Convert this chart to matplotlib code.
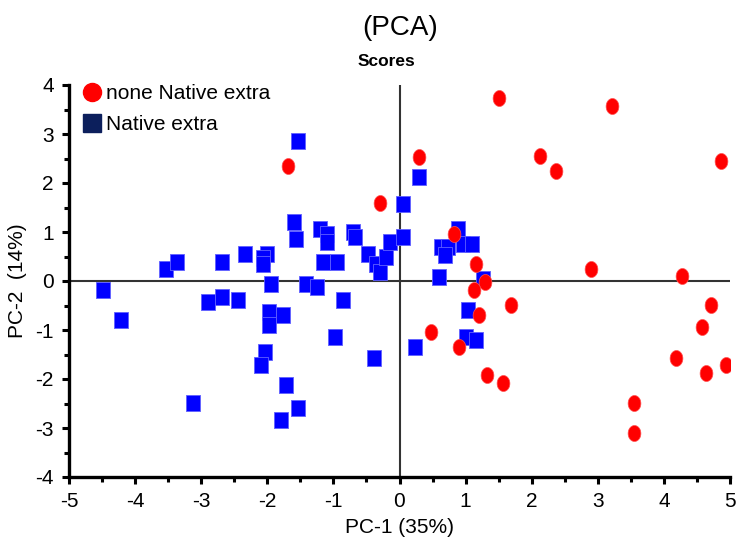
import numpy as np
import matplotlib
matplotlib.use("Agg")
import matplotlib.pyplot as plt
from matplotlib.lines import Line2D
from matplotlib.ticker import MultipleLocator

# PCA scores
other_x = [-1.69, -0.30, 0.30, 1.51, 2.13, 2.37, 3.22, 4.86, 0.82, 1.15, 2.89, 4.27,
           1.29, 1.12, 1.20, 1.69, 0.47, 0.90, 1.33, 1.56, 3.55, 3.55, 4.72, 4.58,
           4.18, 4.64, 4.94]
other_y = [2.35, 1.60, 2.53, 3.73, 2.55, 2.24, 3.57, 2.45, 0.96, 0.35, 0.24, 0.10,
           -0.03, -0.18, -0.69, -0.49, -1.04, -1.35, -1.92, -2.08, -2.49, -3.10, -0.49, -0.94,
           -1.57, -1.88, -1.71]

native_x = [-4.49, -4.22, -3.54, -3.37, -3.13, -2.89, -2.69, -2.68, -2.45, -2.34,
            -2.00, -2.07, -2.07, -1.94, -1.98, -1.97, -1.77, -2.04, -2.10, -1.71,
            -1.53, -1.80, -1.54, -1.60, -1.57, -1.42, -1.25, -1.20, -1.10, -1.09,
            -1.16, -0.95, -0.98, -0.86, -0.71, -0.68, -0.48, -0.35, -0.30, -0.21,
            -0.14, -0.38, 0.06, 0.06, 0.30, 0.88, 0.63, 0.74, 0.69, 0.96,
            1.10, 0.60, 1.26, 1.04, 1.00, 1.15, 0.23]
native_y = [-0.18, -0.80, 0.24, 0.39, -2.49, -0.43, -0.33, 0.39, -0.38, 0.55,
            0.55, 0.47, 0.35, -0.06, -0.63, -0.90, -0.69, -1.45, -1.71, -2.12,
            -2.59, -2.84, 2.86, 1.20, 0.86, -0.06, -0.12, 1.06, 0.96, 0.80,
            0.39, 0.39, -1.14, -0.39, 1.00, 0.90, 0.55, 0.35, 0.19, 0.49,
            0.80, -1.57, 1.57, 0.90, 2.12, 1.06, 0.69, 0.69, 0.53, 0.75,
            0.75, 0.08, 0.04, -0.59, -1.14, -1.20, -1.35]

plt.rcParams['axes.unicode_minus'] = False
plain = ['Liberation Sans', 'DejaVu Sans']

# slightly tall marker shapes, like in the original export
t = np.linspace(0, 2 * np.pi, 40)
ellipse = list(zip(0.40 * np.cos(t), 0.5 * np.sin(t)))
rect = [(-0.41, -0.5), (0.41, -0.5), (0.41, 0.5), (-0.41, 0.5), (-0.41, -0.5)]

fig = plt.figure(figsize=(7.39, 5.56), dpi=100)
ax = fig.add_axes([69 / 739, 1 - 477 / 556, 661 / 739, 392 / 556])

ax.axhline(0, color='#333333', lw=1.5, zorder=1)
ax.axvline(0, color='#333333', lw=1.5, zorder=1)

ax.plot(native_x, native_y, ls='', marker=rect, markersize=12,
        color='#0000ff', markeredgecolor='#6060ff', markeredgewidth=0.6, zorder=3)
ax.plot(other_x, other_y, ls='', marker=ellipse, markersize=11.5,
        color='#ff0000', markeredgecolor='#ff5050', markeredgewidth=0.5, zorder=3)

ax.set_xlim(-5, 5)
ax.set_ylim(-4, 4)
ax.xaxis.set_major_locator(MultipleLocator(1))
ax.xaxis.set_minor_locator(MultipleLocator(0.5))
ax.yaxis.set_major_locator(MultipleLocator(1))
ax.yaxis.set_minor_locator(MultipleLocator(0.5))

for s in ['top', 'right']:
    ax.spines[s].set_visible(False)
for s in ['left', 'bottom']:
    ax.spines[s].set_linewidth(2.4)

ax.tick_params(which='major', direction='out', length=5, width=2.2, pad=6)
ax.tick_params(which='minor', direction='out', length=3.5, width=2.2)
for lab in ax.get_xticklabels() + ax.get_yticklabels():
    lab.set_family(plain)
    lab.set_fontsize(15)

ax.set_xlabel('PC-1 (35%)', family=plain, fontsize=15, labelpad=5)
ax.set_ylabel('PC-2  (14%)', family=plain, fontsize=15, labelpad=6)

fig.text(400 / 739, 1 - 28 / 556, '(PCA)', family=plain, fontsize=20,
         ha='center', va='center')
fig.text(386 / 739, 1 - 62 / 556, 'Scores', family=plain, fontsize=12.5,
         fontweight='bold', ha='center', va='center')

handles = [
    Line2D([], [], ls='', marker='o', markersize=13, color='#ff0000'),
    Line2D([], [], ls='', marker='s', markersize=13, color='#0c1f5c'),
]
ax.legend(handles, ['none Native extra', 'Native extra'], loc='upper left',
          bbox_to_anchor=(0.0, 1.04), frameon=False, handlelength=0.8,
          handletextpad=0.3, labelspacing=0.6, borderaxespad=0.3,
          prop={'family': plain, 'size': 15})

fig.savefig('out.png', dpi=100)
